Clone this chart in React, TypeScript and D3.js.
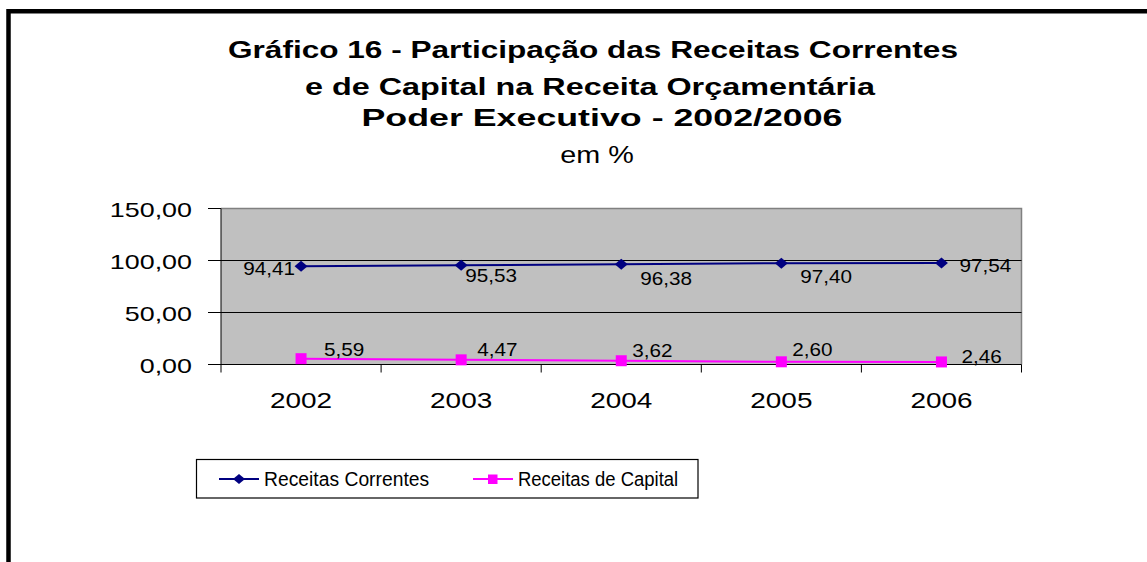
import React from "react";
import * as d3 from "d3";

const years = ["2002", "2003", "2004", "2005", "2006"];
const correntes = [94.41, 95.53, 96.38, 97.4, 97.54];
const capital = [5.59, 4.47, 3.62, 2.6, 2.46];
const yTicks = [0, 50, 100, 150];
const titleLines = [
  "Gráfico 16 - Participação das Receitas Correntes",
  "e de Capital na Receita Orçamentária",
  "Poder Executivo - 2002/2006",
];
const subtitle = "em %";
const seriesNames = ["Receitas Correntes", "Receitas de Capital"];

// label placement offsets (layout, not data)
const corrLabelOff = [
  { dx: -6, dy: 9, anchor: "end" },
  { dx: 4, dy: 17, anchor: "start" },
  { dx: 19, dy: 21, anchor: "start" },
  { dx: 19, dy: 20, anchor: "start" },
  { dx: 18, dy: 9, anchor: "start" },
];
const capLabelOff = [
  { dx: 23, dy: -3, anchor: "start" },
  { dx: 16, dy: -4, anchor: "start" },
  { dx: 11, dy: -4, anchor: "start" },
  { dx: 11, dy: -6, anchor: "start" },
  { dx: 20, dy: 1, anchor: "start" },
];
const titleWidths = [730, 570, 481];
const titleX = [593, 590, 602];

const W = 1147;
const H = 562;
const FONT = "'Liberation Sans', Arial, Helvetica, sans-serif";
const fmt = (v: number) => v.toFixed(2).replace(".", ",");
const diamondPath = (w: number, h: number) =>
  `M${-w / 2},0 L0,${-h / 2} L${w / 2},0 L0,${h / 2} Z`;

export default function App() {
  const left = 221;
  const right = 1021.5;
  const top = 208.5;
  const bottom = 364.5;
  const x = d3.scaleBand<string>().domain(years).range([left, right]);
  const cx = (d: string) => (x(d) as number) + x.bandwidth() / 2;
  const y = d3.scaleLinear().domain([0, 150]).range([bottom, top]);
  const line = d3
    .line<number>()
    .x((_, i) => cx(years[i]))
    .y((v) => y(v));
  const boundaries = years.map((d) => x(d) as number).concat([right]);

  const sText = (
    key: string,
    tx: number,
    ty: number,
    sx: number,
    txt: string,
    size: number,
    anchor: string,
    weight = "normal"
  ) => (
    <text
      key={key}
      transform={`translate(${tx},${ty}) scale(${sx},1)`}
      textAnchor={anchor as any}
      fontSize={size}
      fontWeight={weight}
      fontFamily={FONT}
      fill="#000"
    >
      {txt}
    </text>
  );

  return (
    <svg
      width={W}
      height={H}
      style={{ position: "absolute", left: 0, top: 0, background: "#fff" }}
    >
      <rect x={0} y={0} width={W} height={H} fill="#fff" />
      <path d={`M8.5,${H} V11.3 H${W}`} fill="none" stroke="#000" strokeWidth={4.5} />

      {titleLines.map((t, i) => (
        <text
          key={"t" + i}
          x={titleX[i]}
          y={[58, 95, 126][i]}
          textAnchor="middle"
          fontSize={23}
          fontWeight="bold"
          fontFamily={FONT}
          textLength={titleWidths[i]}
          lengthAdjust="spacingAndGlyphs"
        >
          {t}
        </text>
      ))}
      {sText("sub", 597, 163, 1.25, subtitle, 23, "middle")}

      <rect x={left} y={top} width={right - left} height={bottom - top} fill="#C0C0C0" />
      <path
        d={`M${left},${top} H${right} V${bottom}`}
        fill="none"
        stroke="#808080"
        strokeWidth={1.5}
      />
      {yTicks
        .filter((t) => t > 0 && t < 150)
        .map((t) => (
          <line key={"g" + t} x1={left} x2={right} y1={y(t)} y2={y(t)} stroke="#000" strokeWidth={1} />
        ))}
      <line x1={left} x2={left} y1={top} y2={bottom} stroke="#000" strokeWidth={1} />
      <line x1={left} x2={right} y1={bottom} y2={bottom} stroke="#000" strokeWidth={1} />
      {yTicks.map((t) => (
        <line key={"yt" + t} x1={left - 13} x2={left} y1={y(t)} y2={y(t)} stroke="#000" strokeWidth={1} />
      ))}
      {boundaries.map((b, i) => (
        <line key={"xt" + i} x1={b} x2={b} y1={bottom} y2={bottom + 8} stroke="#000" strokeWidth={1} />
      ))}
      {yTicks.map((t) => sText("yl" + t, 192, y(t) + 8, 1.28, fmt(t), 21, "end"))}
      {years.map((d) => sText("xl" + d, cx(d), 408, 1.3, d, 21.5, "middle"))}

      <path d={line(correntes) || ""} fill="none" stroke="#000080" strokeWidth={2} />
      <path d={line(capital) || ""} fill="none" stroke="#FF00FF" strokeWidth={2} />
      {correntes.map((v, i) => (
        <path
          key={"dm" + i}
          d={diamondPath(13, 11)}
          transform={`translate(${cx(years[i])},${y(v)})`}
          fill="#000080"
        />
      ))}
      {capital.map((v, i) => (
        <rect
          key={"sq" + i}
          x={cx(years[i]) - 5.5}
          y={y(v) - 5.5}
          width={11}
          height={11}
          fill="#FF00FF"
        />
      ))}
      {correntes.map((v, i) =>
        sText(
          "cl" + i,
          cx(years[i]) + corrLabelOff[i].dx,
          y(v) + corrLabelOff[i].dy,
          1.15,
          fmt(v),
          18,
          corrLabelOff[i].anchor
        )
      )}
      {capital.map((v, i) =>
        sText(
          "kl" + i,
          cx(years[i]) + capLabelOff[i].dx,
          y(v) + capLabelOff[i].dy,
          1.15,
          fmt(v),
          18,
          capLabelOff[i].anchor
        )
      )}

      <rect x={196.5} y={459.5} width={501.5} height={38.5} fill="#fff" stroke="#000" strokeWidth={1.2} />
      <line x1={219} x2={259} y1={479} y2={479} stroke="#000080" strokeWidth={2} />
      <path d={diamondPath(12, 10)} transform="translate(239,479)" fill="#000080" />
      {sText("lg0", 264, 486, 0.92, seriesNames[0], 21, "start")}
      <line x1={473} x2={513} y1={479} y2={479} stroke="#FF00FF" strokeWidth={2} />
      <rect x={488} y={474.5} width={9.5} height={9.5} fill="#FF00FF" />
      {sText("lg1", 518, 486, 0.88, seriesNames[1], 21, "start")}
    </svg>
  );
}
